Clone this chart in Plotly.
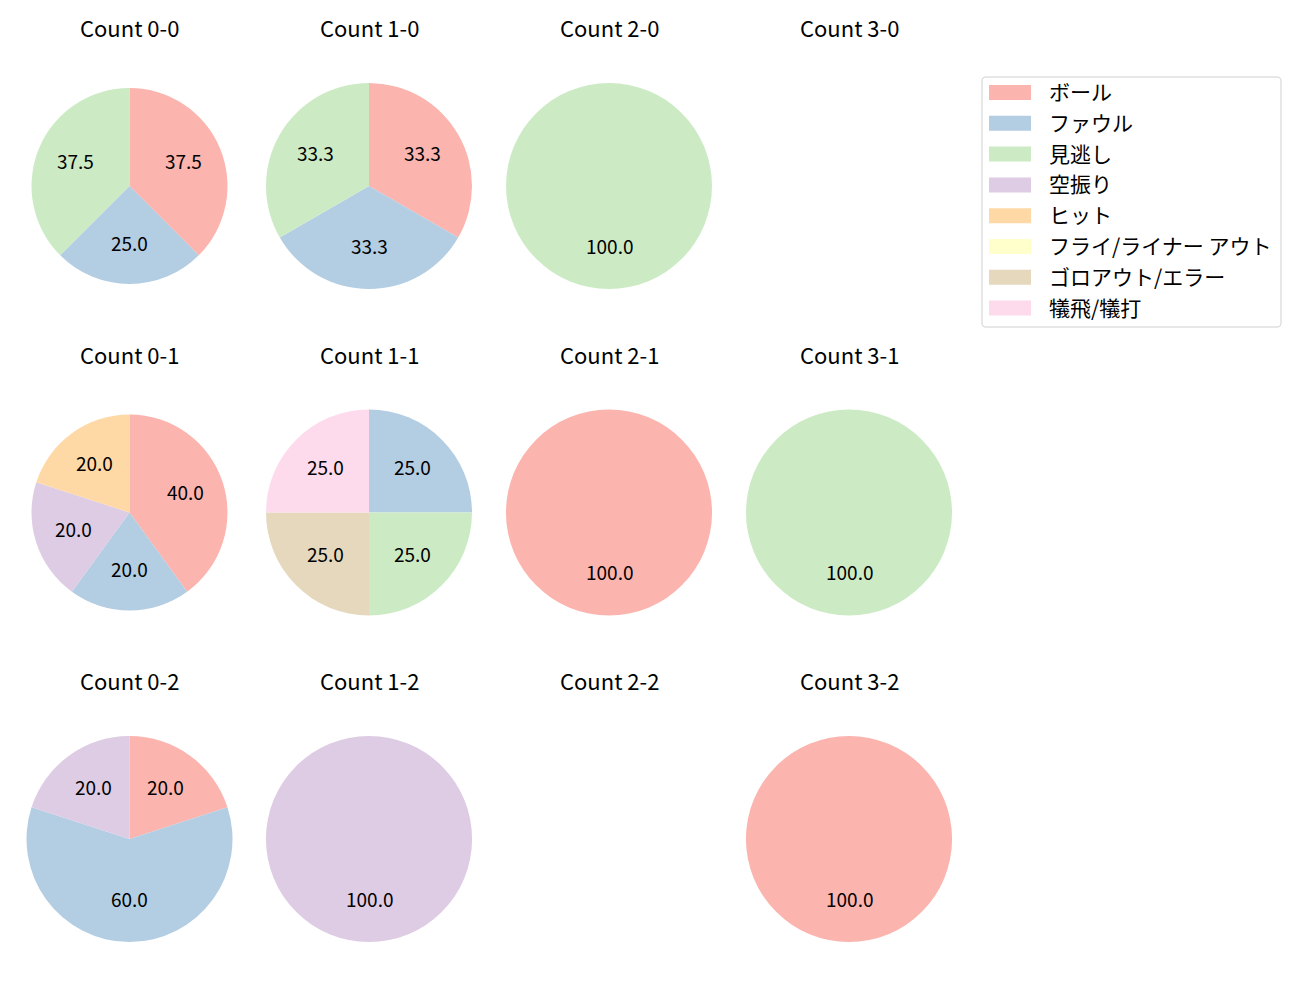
import math
import plotly.graph_objects as go

W, H = 1300, 1000

categories = ["ボール", "ファウル", "見逃し", "空振り", "ヒット",
              "フライ/ライナー アウト", "ゴロアウト/エラー", "犠飛/犠打"]
colors = ["#fbb4ae", "#b3cde3", "#ccebc5", "#decbe4", "#fed9a6",
          "#ffffcc", "#e5d8bd", "#fddaec"]

titles = ["Count 0-0", "Count 1-0", "Count 2-0", "Count 3-0",
          "Count 0-1", "Count 1-1", "Count 2-1", "Count 3-1",
          "Count 0-2", "Count 1-2", "Count 2-2", "Count 3-2"]

count_0_0 = [3, 2, 3, 0, 0, 0, 0, 0]
count_1_0 = [1, 1, 1, 0, 0, 0, 0, 0]
count_2_0 = [0, 0, 1, 0, 0, 0, 0, 0]
count_3_0 = [0, 0, 0, 0, 0, 0, 0, 0]
count_0_1 = [2, 1, 0, 1, 1, 0, 0, 0]
count_1_1 = [0, 1, 1, 0, 0, 0, 1, 1]
count_2_1 = [1, 0, 0, 0, 0, 0, 0, 0]
count_3_1 = [0, 0, 1, 0, 0, 0, 0, 0]
count_0_2 = [1, 3, 0, 1, 0, 0, 0, 0]
count_1_2 = [0, 0, 0, 1, 0, 0, 0, 0]
count_2_2 = [0, 0, 0, 0, 0, 0, 0, 0]
count_3_2 = [1, 0, 0, 0, 0, 0, 0, 0]

all_counts = [count_0_0, count_1_0, count_2_0, count_3_0,
              count_0_1, count_1_1, count_2_1, count_3_1,
              count_0_2, count_1_2, count_2_2, count_3_2]

FONT = "Noto Sans CJK JP"
col_x = [129.5, 369, 609, 849]
row_y = [186, 512.5, 839]
title_y = [27, 354, 680]
TEXT_DY = -2.5  # vertical nudge for label text centering

# pie radius per panel (pixels)
radii = [98, 103, 103, 103,
         98, 103, 103, 103,
         103, 103, 103, 103]

fig = go.Figure()
annotations = []

def px(x):
    return x / W

def py(y):
    return 1 - y / H

for idx, (title, vals) in enumerate(zip(titles, all_counts)):
    r_i, c_i = divmod(idx, 4)
    cx, cy = col_x[c_i], row_y[r_i]
    r = radii[idx]
    annotations.append(dict(x=px(cx), y=py(title_y[r_i]), xref="paper", yref="paper",
                            text=title, showarrow=False, xanchor="center", yanchor="middle",
                            font=dict(family=FONT, size=22, color="#000000")))
    total = sum(vals)
    if total == 0:
        continue
    labs = [categories[i] for i, v in enumerate(vals) if v > 0]
    vs = [v for v in vals if v > 0]
    cs = [colors[i] for i, v in enumerate(vals) if v > 0]
    fig.add_trace(go.Pie(
        labels=labs, values=vs, sort=False, direction="clockwise", rotation=0,
        marker=dict(colors=cs, line=dict(width=0)),
        textinfo="none", showlegend=False,
        domain=dict(x=[px(cx - r), px(cx + r)], y=[py(cy + r), py(cy - r)]),
    ))
    cum = 0
    for v in vs:
        mid = (cum + v / 2) / total * 2 * math.pi
        cum += v
        lx = cx + 0.6 * r * math.sin(mid)
        ly = cy - 0.6 * r * math.cos(mid) + TEXT_DY
        annotations.append(dict(x=px(lx), y=py(ly), xref="paper", yref="paper",
                                text=f"{v / total * 100:.1f}", showarrow=False,
                                xanchor="center", yanchor="middle",
                                font=dict(family=FONT, size=19, color="#000000")))

# legend (drawn manually, rounded frame)
shapes = []
lx0, ly0, lx1, ly1, rad = 982, 77, 1281, 327, 4
path = (f"M {lx0+rad},{ly0} L {lx1-rad},{ly0} Q {lx1},{ly0} {lx1},{ly0+rad} "
        f"L {lx1},{ly1-rad} Q {lx1},{ly1} {lx1-rad},{ly1} "
        f"L {lx0+rad},{ly1} Q {lx0},{ly1} {lx0},{ly1-rad} "
        f"L {lx0},{ly0+rad} Q {lx0},{ly0} {lx0+rad},{ly0} Z")
# convert pixel path to paper coords
def conv_path(p):
    out = []
    for tok in p.split():
        if "," in tok:
            a, b = tok.split(",")
            out.append(f"{px(float(a)):.6f},{py(float(b)):.6f}")
        else:
            out.append(tok)
    return " ".join(out)
shapes.append(dict(type="path", xref="paper", yref="paper", path=conv_path(path),
                   line=dict(color="#d0d0d0", width=1), fillcolor="#ffffff", layer="below"))
row0, step = 92.5, 30.8
for i, (lab, col) in enumerate(zip(categories, colors)):
    yc = row0 + i * step
    shapes.append(dict(type="rect", xref="paper", yref="paper",
                       x0=px(989), x1=px(1031), y0=py(yc + 7.5), y1=py(yc - 7.5),
                       line=dict(width=0), fillcolor=col))
    annotations.append(dict(x=px(1047), y=py(yc - 1.5), xref="paper", yref="paper",
                            text=lab, showarrow=False, xanchor="left", yanchor="middle",
                            font=dict(family=FONT, size=21, color="#000000")))

fig.update_layout(
    width=W, height=H, margin=dict(l=0, r=0, t=0, b=0),
    paper_bgcolor="#ffffff", plot_bgcolor="#ffffff",
    annotations=annotations, shapes=shapes, showlegend=False,
    font=dict(family=FONT),
)

fig.write_html("out.html")
